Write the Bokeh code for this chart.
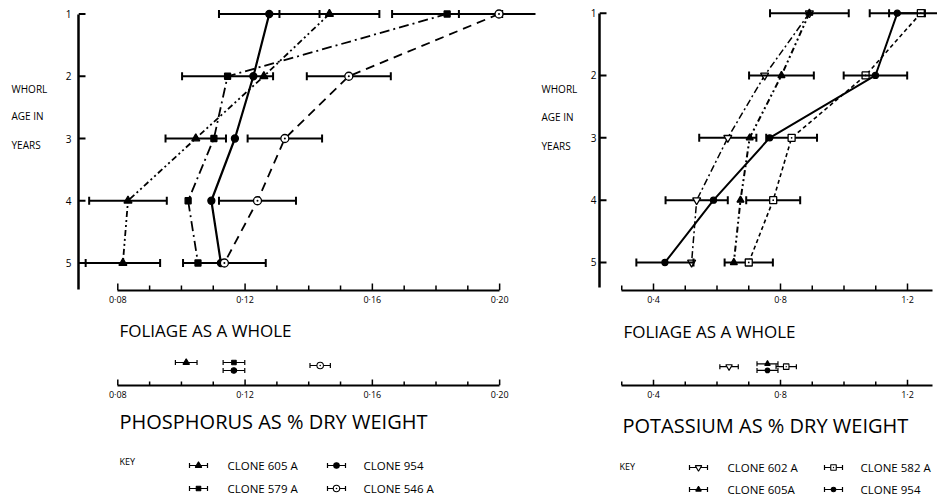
import math
from bokeh.plotting import figure
from bokeh.layouts import row, column
from bokeh.models import (Range1d, LinearAxis, FixedTicker, CustomJSTickFormatter,
                          ColumnDataSource)
from bokeh.core.properties import value
from bokeh.embed import file_html
from bokeh.resources import INLINE

# ---------------- data ----------------
WHORL_AGE = [1, 2, 3, 4, 5]

# Phosphorus, % dry weight, by whorl age
P_605A = [0.1465, 0.1259, 0.1045, 0.0832, 0.0816]
P_605A_ERR = [0.0157, None, 0.0095, 0.0122, 0.0117]
P_579A = [0.1835, 0.1145, 0.1102, 0.1021, 0.1052]
P_579A_ERR = [0.0173, 0.0143, None, None, None]
P_954 = [0.1276, 0.1226, 0.1168, 0.1094, 0.1124]
P_954_ERR = [0.0158, None, None, None, None]
P_546A = [0.1998, 0.1526, 0.1325, 0.1239, 0.1135]
P_546A_ERR = [0.0126, 0.0132, 0.0117, 0.0121, 0.0130]

# Phosphorus, foliage as a whole (605A, 579A, 954, 546A)
P_WHOLE = [0.1015, 0.1165, 0.1165, 0.1436]
P_WHOLE_ERR = [0.0034, 0.0034, 0.0034, 0.0032]

P_TICKS = [0.08, 0.12, 0.16, 0.20]
P_MINOR = [0.09, 0.10, 0.11, 0.13, 0.14, 0.15, 0.17, 0.18, 0.19]

# Potassium, % dry weight, by whorl age
K_602A = [0.891, 0.750, 0.634, 0.536, 0.520]
K_602A_ERR = [None, None, 0.090, 0.098, None]
K_605A = [0.891, 0.803, 0.703, 0.674, 0.653]
K_605A_ERR = [0.124, 0.102, None, None, None]
K_582A = [1.242, 1.068, 0.835, 0.777, 0.700]
K_582A_ERR = [0.100, None, 0.080, 0.085, 0.076]
K_954 = [1.168, 1.099, 0.766, 0.589, 0.436]
K_954_ERR = [0.087, 0.100, None, None, 0.090]

# Potassium, foliage as a whole (602A, 605A, 582A, 954)
K_WHOLE = [0.638, 0.759, 0.818, 0.759]
K_WHOLE_ERR = [0.029, 0.033, 0.032, 0.033]

K_TICKS = [0.4, 0.8, 1.2]
K_MINOR = [0.3, 0.5, 0.6, 0.7, 0.9, 1.0, 1.1]

# ---------------- styling / layout helpers ----------------
FONT = "Open Sans"

def base_fig(w, h, xr, yr, ml=0, mr=0, mt=0, mb=0):
    p = figure(width=w, height=h, x_range=xr, y_range=yr, output_backend="svg",
               toolbar_location=None, x_axis_type=None, y_axis_type=None,
               min_border_left=ml, min_border_right=mr, min_border_top=mt,
               min_border_bottom=mb)
    p.outline_line_color = None
    p.background_fill_color = None
    p.border_fill_color = None
    return p

def rng(v0, px0, ppu, px_a, px_b):
    # range whose start is at pixel px_a and end at pixel px_b
    return Range1d(start=v0 + (px_a - px0) / ppu, end=v0 + (px_b - px0) / ppu)

def x_axis(p, ticks, minor, bounds, digits, ppu_y, standoff=2, tlen=7):
    ax = LinearAxis(
        ticker=FixedTicker(ticks=ticks, minor_ticks=minor), bounds=bounds,
        formatter=CustomJSTickFormatter(
            code="return tick.toFixed(%d).replace('.', '\\u00b7')" % digits),
        axis_line_width=2, axis_line_color="black",
        major_tick_in=0, major_tick_out=0, minor_tick_in=0, minor_tick_out=0,
        major_label_standoff=standoff, major_label_text_font=FONT,
        major_label_text_font_size="9px", major_label_text_color="black")
    p.add_layout(ax, "below")
    # inward (upward) tick marks, standing on the axis line
    edge = p.y_range.start
    step = -1.0 if p.y_range.end > p.y_range.start else 1.0
    y_maj = edge - step * (tlen / 2.0) / ppu_y
    y_min = edge - step * ((tlen - 2) / 2.0) / ppu_y
    p.scatter(x=ticks, y=[y_maj] * len(ticks), marker="dash", angle=math.pi / 2,
              size=tlen, line_color="black", line_width=1.5)
    p.scatter(x=minor, y=[y_min] * len(minor), marker="dash", angle=math.pi / 2,
              size=tlen - 2, line_color="black", line_width=1.5)

def y_axis(p, bounds, standoff, ppu_x, tlen=7):
    ax = LinearAxis(
        ticker=FixedTicker(ticks=WHORL_AGE), bounds=bounds,
        axis_line_width=2.5, axis_line_color="black",
        major_tick_in=0, major_tick_out=0, minor_tick_in=0, minor_tick_out=0,
        major_label_standoff=standoff, major_label_text_font=FONT,
        major_label_text_font_size="10px", major_label_text_color="black")
    p.add_layout(ax, "left")
    # inward (rightward) tick marks
    x_at = p.x_range.start + (tlen / 2.0) / ppu_x
    p.scatter(x=[x_at] * len(WHORL_AGE), y=WHORL_AGE, marker="dash",
              size=tlen, line_color="black", line_width=2)

def txt(p, x, y, s, size, align="left"):
    p.text(x=[x], y=[y], text=[s], text_font=value(FONT),
           text_font_size=value(size), text_align=align,
           text_baseline="middle", text_color="black")

def errbars(p, lo, hi, base, cap, lw):
    # horizontal error bars with vertical end caps, drawn under the markers
    p.segment(x0=lo, y0=base, x1=hi, y1=base, line_color="black", line_width=lw)
    p.scatter(x=lo + hi, y=base + base, marker="dash", angle=math.pi / 2,
              size=cap, line_color="black", line_width=lw)

def series(p, xs, errs, st):
    src = ColumnDataSource(dict(x=xs, y=WHORL_AGE))
    p.line("x", "y", source=src, line_color="black", line_width=st["lw"],
           line_dash=st["dash"])
    keep = [(x, e, y) for x, e, y in zip(xs, errs, WHORL_AGE) if e is not None]
    if keep:
        errbars(p, [x - e for x, e, _ in keep], [x + e for x, e, _ in keep],
                [y for _, _, y in keep], 8, 2)
    p.scatter("x", "y", source=src, marker=st["marker"], size=st["size"],
              fill_color=st["fill"], line_color="black", line_width=1.3)

def key_symbol(p, xc, y, st):
    errbars(p, [xc - 9], [xc + 9], [y], 5, 1.2)
    p.scatter(x=[xc], y=[y], marker=st["marker"], size=st["size"] - 1.5,
              fill_color=st["fill"], line_color="black", line_width=1.1)

ST_605 = dict(marker="triangle", fill="black", size=8, dash="6 3 2 3 2 3", lw=1.8)
ST_579 = dict(marker="square", fill="black", size=6, dash="10 4 2 4", lw=1.8)
ST_954 = dict(marker="circle", fill="black", size=7, dash="solid", lw=2.2)
ST_546 = dict(marker="circle_dot", fill="white", size=8, dash="9 6", lw=1.8)
ST_602 = dict(marker="inverted_triangle", fill="white", size=8, dash="7 3 2 3", lw=1.5)
ST_K605 = dict(marker="triangle", fill="black", size=7, dash="6 3 2 3 2 3", lw=2)
ST_582 = dict(marker="square_dot", fill="white", size=7, dash="4 3", lw=1.6)
ST_K954 = dict(marker="circle", fill="black", size=6, dash="solid", lw=2)

# pixel anchors of the scales (page pixels)
P_PX0, P_PPU = 117.3, 3182.0      # 0.08 at x=117.3 px
K_PX0, K_PPU = 653.0, 317.5       # 0.4 at x=653 px
LY_PX0, LY_PPU = 13.5, 62.25      # whorl 1 at y=13.5 px (left)
RY_PX0, RY_PPU = 12.8, 63.2       # whorl 1 (right)

# ---------------- top row (y 0..318) ----------------
LT = base_fig(58, 318, Range1d(0, 58), Range1d(318, 0))
for s, yy in (("WHORL", 97), ("AGE IN", 127), ("YEARS", 158)):
    txt(LT, 11, yy, s, "10px")

L1 = base_fig(482, 318, rng(0.08, P_PX0, P_PPU, 78, 535),
              rng(1, LY_PX0, LY_PPU, 290, 0), ml=20, mr=5, mt=0, mb=28)
y_axis(L1, (1, 5.43), 7, P_PPU)
x_axis(L1, P_TICKS, P_MINOR, (0.08, 0.20), 2, LY_PPU)
series(L1, P_605A, P_605A_ERR, ST_605)
series(L1, P_579A, P_579A_ERR, ST_579)
series(L1, P_954, P_954_ERR, ST_954)
series(L1, P_546A, P_546A_ERR, ST_546)

RT = base_fig(47, 318, Range1d(540, 587), Range1d(318, 0))
for s, yy in (("WHORL", 97), ("AGE IN", 128), ("YEARS", 160)):
    txt(RT, 541, yy, s, "10px")

R1 = base_fig(350, 318, rng(0.4, K_PX0, K_PPU, 599, 937),
              rng(1, RY_PX0, RY_PPU, 294, 0), ml=12, mr=0, mt=0, mb=24)
y_axis(R1, (1, 5.4), 3, K_PPU)
x_axis(R1, K_TICKS, K_MINOR, (0.30, 1.28), 1, RY_PPU)
series(R1, K_602A, K_602A_ERR, ST_602)
series(R1, K_605A, K_605A_ERR, ST_K605)
series(R1, K_582A, K_582A_ERR, ST_582)
series(R1, K_954, K_954_ERR, ST_K954)

# ---------------- middle row (y 318..406): foliage as a whole ----------------
def summary(p, vals, errs, levels, styles):
    for v, e, lv, st in zip(vals, errs, levels, styles):
        errbars(p, [v - e], [v + e], [lv], 5, 1.2)
        p.scatter(x=[v], y=[lv], marker=st["marker"], size=st["size"] - 1.5,
                  fill_color=st["fill"], line_color="black", line_width=1.1)

L2 = base_fig(540, 88, rng(0.08, P_PX0, P_PPU, 0, 540), Range1d(385, 318), mb=21)
x_axis(L2, P_TICKS, P_MINOR, (0.08, 0.20), 2, 1.0, tlen=6)
txt(L2, 0.08 + (119 - P_PX0) / P_PPU, 330, "FOLIAGE AS A WHOLE", "17px")
summary(L2, P_WHOLE, P_WHOLE_ERR, [362, 362, 370, 365],
        [ST_605, ST_579, ST_954, ST_546])

R2 = base_fig(397, 88, rng(0.4, K_PX0, K_PPU, 540, 937), Range1d(389, 318), mb=17)
x_axis(R2, K_TICKS, K_MINOR, (0.30, 1.28), 1, 1.0, tlen=6)
txt(R2, 0.4 + (623 - K_PX0) / K_PPU, 332, "FOLIAGE AS A WHOLE", "17px")
summary(R2, K_WHOLE, K_WHOLE_ERR, [369, 366, 369, 373],
        [ST_602, ST_K605, ST_582, ST_K954])

# ---------------- bottom row (y 406..497): axis titles and keys ----------------
L3 = base_fig(540, 91, Range1d(0, 540), Range1d(497, 406))
txt(L3, 119, 421, "PHOSPHORUS AS % DRY WEIGHT", "20px")
txt(L3, 119, 461, "KEY", "9px")
key_symbol(L3, 198, 465, ST_605); txt(L3, 227, 465, "CLONE 605 A", "11.5px")
key_symbol(L3, 336, 465, ST_954); txt(L3, 363, 465, "CLONE 954", "11.5px")
key_symbol(L3, 198, 488, ST_579); txt(L3, 227, 488, "CLONE 579 A", "11.5px")
key_symbol(L3, 336, 488, ST_546); txt(L3, 363, 488, "CLONE 546 A", "11.5px")

R3 = base_fig(397, 91, Range1d(540, 937), Range1d(497, 406))
txt(R3, 622, 425, "POTASSIUM AS % DRY WEIGHT", "20px")
txt(R3, 619, 466, "KEY", "9px")
key_symbol(R3, 698, 467, ST_602); txt(R3, 727, 467, "CLONE 602 A", "11.5px")
key_symbol(R3, 833, 467, ST_582); txt(R3, 860, 467, "CLONE 582 A", "11.5px")
key_symbol(R3, 698, 489, ST_K605); txt(R3, 727, 489, "CLONE 605A", "11.5px")
key_symbol(R3, 833, 489, ST_K954); txt(R3, 860, 489, "CLONE 954", "11.5px")

layout = column(row(LT, L1, RT, R1), row(L2, R2), row(L3, R3))

with open("out.html", "w", encoding="utf-8") as f:
    f.write(file_html(layout, INLINE))
